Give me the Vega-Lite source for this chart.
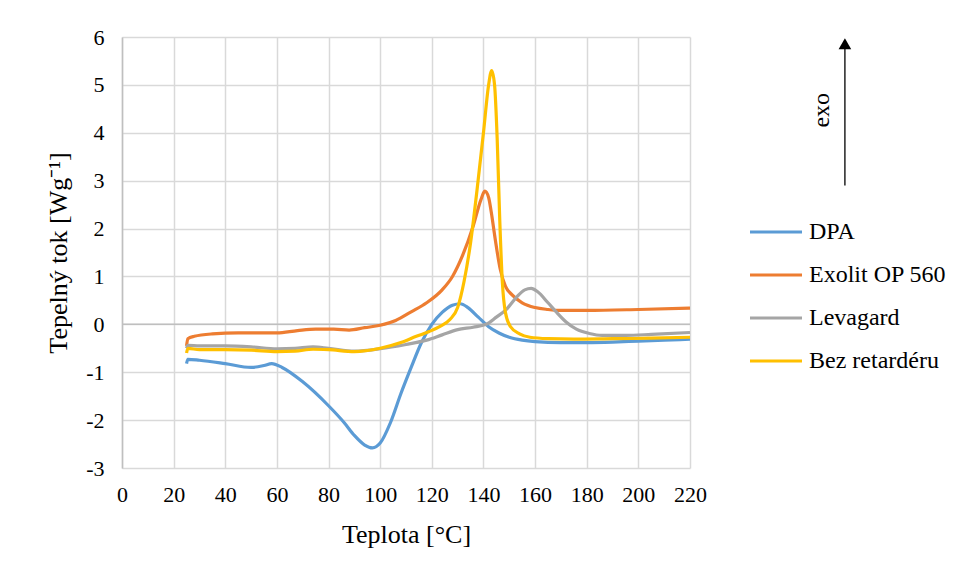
{
  "$schema": "https://vega.github.io/schema/vega-lite/v6.json",
  "autosize": {"type": "none"},
  "width": 568,
  "height": 431,
  "padding": {"left": 122, "top": 37, "right": 270, "bottom": 110},
  "background": "white",
  "config": {
    "font": "Liberation Serif",
    "view": {"stroke": null},
    "axis": {"labelFont": "Liberation Serif", "titleFont": "Liberation Serif", "labelColor": "#000000", "titleColor": "#000000", "titleFontWeight": "normal", "labelFontSize": 22, "titleFontSize": 26, "gridColor": "#D9D9D9", "gridWidth": 1.5, "ticks": false, "labelFlush": false},
    "legend": {"labelFont": "Liberation Serif", "labelFontSize": 24, "labelColor": "#000000"}
  },
  "datasets": {
    "curves": [
      {"t": 25, "q": -0.82, "s": "DPA"}, {"t": 25.5, "q": -0.73, "s": "DPA"}, {"t": 30, "q": -0.75, "s": "DPA"}, {"t": 40, "q": -0.82, "s": "DPA"}, {"t": 50, "q": -0.9, "s": "DPA"}, {"t": 55, "q": -0.86, "s": "DPA"}, {"t": 58, "q": -0.82, "s": "DPA"}, {"t": 62, "q": -0.9, "s": "DPA"}, {"t": 70, "q": -1.2, "s": "DPA"}, {"t": 80, "q": -1.7, "s": "DPA"}, {"t": 86, "q": -2.05, "s": "DPA"}, {"t": 90, "q": -2.32, "s": "DPA"}, {"t": 94, "q": -2.52, "s": "DPA"}, {"t": 97, "q": -2.58, "s": "DPA"}, {"t": 100, "q": -2.48, "s": "DPA"}, {"t": 104, "q": -2.05, "s": "DPA"}, {"t": 108, "q": -1.45, "s": "DPA"}, {"t": 112, "q": -0.9, "s": "DPA"}, {"t": 116, "q": -0.38, "s": "DPA"}, {"t": 120, "q": 0.0, "s": "DPA"}, {"t": 124, "q": 0.25, "s": "DPA"}, {"t": 128, "q": 0.4, "s": "DPA"}, {"t": 131, "q": 0.43, "s": "DPA"}, {"t": 134, "q": 0.35, "s": "DPA"}, {"t": 138, "q": 0.15, "s": "DPA"}, {"t": 142, "q": -0.05, "s": "DPA"}, {"t": 146, "q": -0.18, "s": "DPA"}, {"t": 150, "q": -0.27, "s": "DPA"}, {"t": 155, "q": -0.33, "s": "DPA"}, {"t": 160, "q": -0.36, "s": "DPA"}, {"t": 170, "q": -0.38, "s": "DPA"}, {"t": 180, "q": -0.38, "s": "DPA"}, {"t": 190, "q": -0.37, "s": "DPA"}, {"t": 200, "q": -0.35, "s": "DPA"}, {"t": 210, "q": -0.33, "s": "DPA"}, {"t": 220, "q": -0.31, "s": "DPA"},
      {"t": 25, "q": -0.45, "s": "Exolit OP 560"}, {"t": 25.5, "q": -0.3, "s": "Exolit OP 560"}, {"t": 28, "q": -0.25, "s": "Exolit OP 560"}, {"t": 35, "q": -0.2, "s": "Exolit OP 560"}, {"t": 45, "q": -0.18, "s": "Exolit OP 560"}, {"t": 60, "q": -0.18, "s": "Exolit OP 560"}, {"t": 68, "q": -0.13, "s": "Exolit OP 560"}, {"t": 75, "q": -0.1, "s": "Exolit OP 560"}, {"t": 82, "q": -0.1, "s": "Exolit OP 560"}, {"t": 88, "q": -0.12, "s": "Exolit OP 560"}, {"t": 94, "q": -0.07, "s": "Exolit OP 560"}, {"t": 100, "q": -0.02, "s": "Exolit OP 560"}, {"t": 106, "q": 0.08, "s": "Exolit OP 560"}, {"t": 112, "q": 0.26, "s": "Exolit OP 560"}, {"t": 118, "q": 0.45, "s": "Exolit OP 560"}, {"t": 124, "q": 0.72, "s": "Exolit OP 560"}, {"t": 128, "q": 1.0, "s": "Exolit OP 560"}, {"t": 132, "q": 1.45, "s": "Exolit OP 560"}, {"t": 136, "q": 2.05, "s": "Exolit OP 560"}, {"t": 139, "q": 2.6, "s": "Exolit OP 560"}, {"t": 140.5, "q": 2.78, "s": "Exolit OP 560"}, {"t": 142, "q": 2.65, "s": "Exolit OP 560"}, {"t": 143, "q": 2.35, "s": "Exolit OP 560"}, {"t": 144.5, "q": 1.8, "s": "Exolit OP 560"}, {"t": 146.5, "q": 1.15, "s": "Exolit OP 560"}, {"t": 148.5, "q": 0.8, "s": "Exolit OP 560"}, {"t": 151, "q": 0.62, "s": "Exolit OP 560"}, {"t": 155, "q": 0.45, "s": "Exolit OP 560"}, {"t": 160, "q": 0.35, "s": "Exolit OP 560"}, {"t": 165, "q": 0.31, "s": "Exolit OP 560"}, {"t": 170, "q": 0.29, "s": "Exolit OP 560"}, {"t": 180, "q": 0.29, "s": "Exolit OP 560"}, {"t": 200, "q": 0.31, "s": "Exolit OP 560"}, {"t": 220, "q": 0.34, "s": "Exolit OP 560"},
      {"t": 25, "q": -0.5, "s": "Levagard"}, {"t": 25.5, "q": -0.44, "s": "Levagard"}, {"t": 30, "q": -0.45, "s": "Levagard"}, {"t": 40, "q": -0.45, "s": "Levagard"}, {"t": 50, "q": -0.47, "s": "Levagard"}, {"t": 60, "q": -0.51, "s": "Levagard"}, {"t": 67, "q": -0.5, "s": "Levagard"}, {"t": 74, "q": -0.47, "s": "Levagard"}, {"t": 80, "q": -0.5, "s": "Levagard"}, {"t": 90, "q": -0.56, "s": "Levagard"}, {"t": 100, "q": -0.51, "s": "Levagard"}, {"t": 110, "q": -0.42, "s": "Levagard"}, {"t": 118, "q": -0.33, "s": "Levagard"}, {"t": 124, "q": -0.22, "s": "Levagard"}, {"t": 130, "q": -0.11, "s": "Levagard"}, {"t": 136, "q": -0.06, "s": "Levagard"}, {"t": 141, "q": 0.0, "s": "Levagard"}, {"t": 145, "q": 0.15, "s": "Levagard"}, {"t": 149, "q": 0.32, "s": "Levagard"}, {"t": 153, "q": 0.58, "s": "Levagard"}, {"t": 156, "q": 0.72, "s": "Levagard"}, {"t": 158.5, "q": 0.75, "s": "Levagard"}, {"t": 161, "q": 0.68, "s": "Levagard"}, {"t": 165, "q": 0.45, "s": "Levagard"}, {"t": 168, "q": 0.27, "s": "Levagard"}, {"t": 172, "q": 0.05, "s": "Levagard"}, {"t": 176, "q": -0.1, "s": "Levagard"}, {"t": 181, "q": -0.19, "s": "Levagard"}, {"t": 186, "q": -0.23, "s": "Levagard"}, {"t": 195, "q": -0.23, "s": "Levagard"}, {"t": 205, "q": -0.21, "s": "Levagard"}, {"t": 220, "q": -0.17, "s": "Levagard"},
      {"t": 25, "q": -0.6, "s": "Bez retardéru"}, {"t": 25.5, "q": -0.5, "s": "Bez retardéru"}, {"t": 30, "q": -0.53, "s": "Bez retardéru"}, {"t": 40, "q": -0.53, "s": "Bez retardéru"}, {"t": 50, "q": -0.54, "s": "Bez retardéru"}, {"t": 60, "q": -0.57, "s": "Bez retardéru"}, {"t": 67, "q": -0.56, "s": "Bez retardéru"}, {"t": 74, "q": -0.52, "s": "Bez retardéru"}, {"t": 80, "q": -0.53, "s": "Bez retardéru"}, {"t": 90, "q": -0.57, "s": "Bez retardéru"}, {"t": 100, "q": -0.5, "s": "Bez retardéru"}, {"t": 108, "q": -0.38, "s": "Bez retardéru"}, {"t": 114, "q": -0.25, "s": "Bez retardéru"}, {"t": 119, "q": -0.15, "s": "Bez retardéru"}, {"t": 123, "q": -0.05, "s": "Bez retardéru"}, {"t": 127, "q": 0.1, "s": "Bez retardéru"}, {"t": 130, "q": 0.35, "s": "Bez retardéru"}, {"t": 132.5, "q": 0.9, "s": "Bez retardéru"}, {"t": 135, "q": 1.7, "s": "Bez retardéru"}, {"t": 137.5, "q": 2.8, "s": "Bez retardéru"}, {"t": 140, "q": 4.0, "s": "Bez retardéru"}, {"t": 142, "q": 5.0, "s": "Bez retardéru"}, {"t": 143.2, "q": 5.3, "s": "Bez retardéru"}, {"t": 144.3, "q": 5.0, "s": "Bez retardéru"}, {"t": 145.3, "q": 3.9, "s": "Bez retardéru"}, {"t": 146.3, "q": 2.2, "s": "Bez retardéru"}, {"t": 147.3, "q": 0.9, "s": "Bez retardéru"}, {"t": 148.5, "q": 0.25, "s": "Bez retardéru"}, {"t": 150.5, "q": -0.05, "s": "Bez retardéru"}, {"t": 154, "q": -0.2, "s": "Bez retardéru"}, {"t": 158, "q": -0.27, "s": "Bez retardéru"}, {"t": 165, "q": -0.3, "s": "Bez retardéru"}, {"t": 175, "q": -0.31, "s": "Bez retardéru"}, {"t": 190, "q": -0.3, "s": "Bez retardéru"}, {"t": 205, "q": -0.29, "s": "Bez retardéru"}, {"t": 220, "q": -0.27, "s": "Bez retardéru"}
    ]
  },
  "layer": [
    {
      "data": {"values": [{"q": 0}]},
      "mark": {"type": "rule", "color": "#BFBFBF", "strokeWidth": 1.5},
      "encoding": {"y": {"field": "q", "type": "quantitative"}}
    },
    {
      "data": {"name": "curves"},
      "mark": {"type": "line", "interpolate": "monotone", "strokeWidth": 3.2},
      "encoding": {
        "x": {"field": "t", "type": "quantitative", "scale": {"domain": [0, 220], "nice": false}, "axis": {"values": [0,20,40,60,80,100,120,140,160,180,200,220], "title": "Teplota [°C]", "titlePadding": 16, "labelPadding": 16, "domain": false}},
        "y": {"field": "q", "type": "quantitative", "scale": {"domain": [-3, 6], "nice": false}, "axis": {"values": [-3,-2,-1,0,1,2,3,4,5,6], "labelExpr": "replace(datum.label, '−', '-')", "title": "Tepelný tok [Wg⁻¹]", "titlePadding": 14, "labelPadding": 18, "domainColor": "#BFBFBF", "domainWidth": 1.5}},
        "color": {"field": "s", "type": "nominal", "scale": {"domain": ["DPA", "Exolit OP 560", "Levagard", "Bez retardéru"], "range": ["#5B9BD5", "#ED7D31", "#A5A5A5", "#FFC000"]},
          "legend": {"title": null, "orient": "none", "legendX": 626, "legendY": 167, "symbolType": "stroke", "symbolSize": 2704, "symbolStrokeWidth": 3.2, "rowPadding": 3, "labelOffset": 5}}
      }
    },
    {
      "data": {"values": [{"x": 280, "y": 2.9, "y2": 5.8}]},
      "mark": {"type": "rule", "color": "#000000", "strokeWidth": 1.3},
      "encoding": {"x": {"field": "x", "type": "quantitative"}, "y": {"field": "y", "type": "quantitative"}, "y2": {"field": "y2"}}
    },
    {
      "data": {"values": [{"x": 280, "y": 5.86}]},
      "mark": {"type": "point", "shape": "triangle-up", "filled": true, "color": "#000000", "size": 160, "opacity": 1},
      "encoding": {"x": {"field": "x", "type": "quantitative"}, "y": {"field": "y", "type": "quantitative"}}
    },
    {
      "data": {"values": [{"x": 271, "y": 4.47, "label": "exo"}]},
      "mark": {"type": "text", "angle": 270, "fontSize": 24, "font": "Liberation Serif", "color": "#000000", "align": "center", "baseline": "middle"},
      "encoding": {"x": {"field": "x", "type": "quantitative"}, "y": {"field": "y", "type": "quantitative"}, "text": {"field": "label"}}
    }
  ]
}
